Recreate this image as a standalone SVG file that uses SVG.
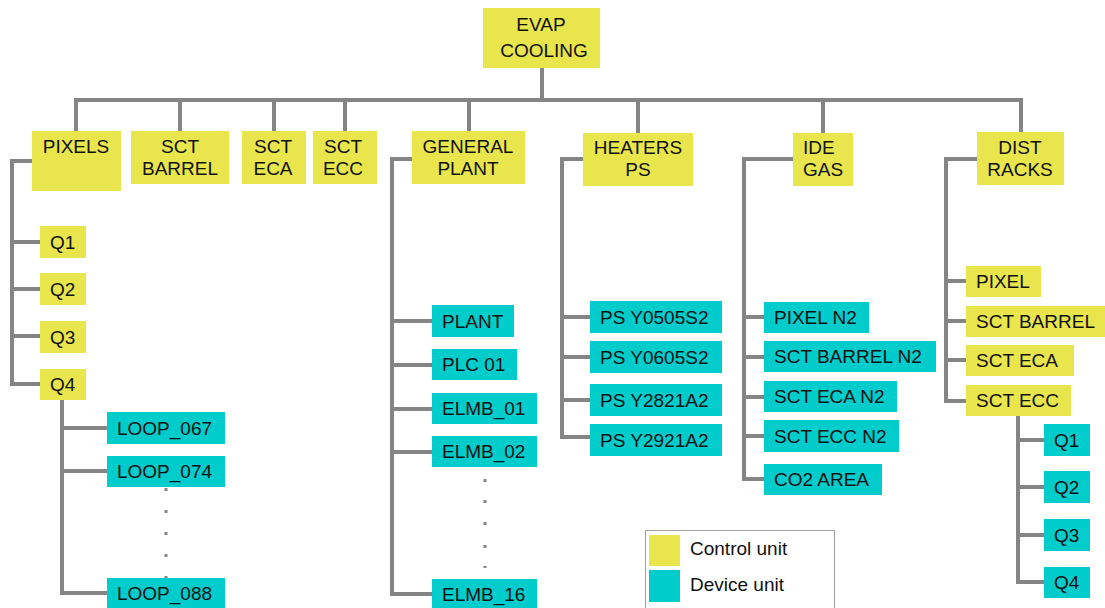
<svg xmlns="http://www.w3.org/2000/svg" width="1105" height="608" viewBox="0 0 1105 608">
<style>
.c{fill:#e8e64c}
.d{fill:#00cccc}
text{font-family:"Liberation Sans",Arial,sans-serif;font-size:19px;fill:#111}
.m{text-anchor:middle}
.ln{fill:none;stroke:#858585;stroke-width:4;stroke-linejoin:miter}
.dot{fill:#858585}
</style>
<rect width="1105" height="608" fill="#ffffff"/>
<g id="connectors" class="ln">
<path d="M542,68 V100"/>
<path d="M76,131 V100 H1021 V132"/>
<path d="M180,100 V131 M274,100 V131 M345,100 V131 M469,100 V131 M638,100 V133 M823,100 V133"/>
<path d="M32,161 H12 V384 H40 M12,242 H40 M12,289 H40 M12,336 H40"/>
<path d="M62,400 V593 H107 M62,428 H107 M62,471 H107"/>
<path d="M412,159 H392 V594 H432 M392,321 H432 M392,365 H432 M392,409 H432 M392,452 H432"/>
<path d="M583,159 H562 V437 H590 M562,317 H590 M562,357 H590 M562,400 H590"/>
<path d="M793,159 H744 V479 H764 M744,317 H764 M744,357 H764 M744,397 H764 M744,436 H764"/>
<path d="M977,159 H946 V401 H966 M946,281 H966 M946,321 H966 M946,360 H966"/>
<path d="M1018,416 V582 H1044 M1018,440 H1044 M1018,487 H1044 M1018,535 H1044"/>
</g>
<g id="dots1" class="dot">
<rect x="164.5" y="488" width="3" height="3"/><rect x="164.5" y="510" width="3" height="3"/><rect x="164.5" y="532" width="3" height="3"/><rect x="164.5" y="554" width="3" height="3"/><rect x="164.5" y="576" width="3" height="2"/>
</g>
<g id="dots2" class="dot">
<rect x="483.5" y="479" width="3" height="3"/><rect x="483.5" y="500" width="3" height="3"/><rect x="483.5" y="522" width="3" height="3"/><rect x="483.5" y="545" width="3" height="3"/><rect x="483.5" y="566" width="3" height="2"/>
</g>
<g id="evap"><rect class="c" x="483" y="8" width="117" height="60"/><text class="m" x="541" y="31">EVAP</text><text class="m" x="544" y="57">COOLING</text></g>
<g id="pixels"><rect class="c" x="32" y="131" width="89" height="60"/><text class="m" x="76" y="153">PIXELS</text></g>
<g id="sctbarrel"><rect class="c" x="131" y="131" width="98" height="53"/><text class="m" x="180" y="153">SCT</text><text class="m" x="180" y="175">BARREL</text></g>
<g id="scteca"><rect class="c" x="242" y="131" width="64" height="53"/><text class="m" x="273" y="153">SCT</text><text class="m" x="273" y="175">ECA</text></g>
<g id="sctecc"><rect class="c" x="313" y="131" width="64" height="53"/><text class="m" x="343" y="153">SCT</text><text class="m" x="343" y="175">ECC</text></g>
<g id="genplant"><rect class="c" x="412" y="131" width="113" height="53"/><text class="m" x="468" y="153">GENERAL</text><text class="m" x="468" y="175">PLANT</text></g>
<g id="heaters"><rect class="c" x="583" y="133" width="110" height="53"/><text class="m" x="638" y="154">HEATERS</text><text class="m" x="638" y="176">PS</text></g>
<g id="idegas"><rect class="c" x="793" y="133" width="60" height="53"/><text x="803" y="154">IDE</text><text x="803" y="176">GAS</text></g>
<g id="distracks"><rect class="c" x="977" y="132" width="87" height="53"/><text class="m" x="1020" y="154">DIST</text><text class="m" x="1020" y="176">RACKS</text></g>
<g id="pq1"><rect class="c" x="40" y="226" width="46" height="32"/><text x="50" y="249">Q1</text></g>
<g id="pq2"><rect class="c" x="40" y="273" width="46" height="32"/><text x="50" y="296">Q2</text></g>
<g id="pq3"><rect class="c" x="40" y="321" width="46" height="32"/><text x="50" y="344">Q3</text></g>
<g id="pq4"><rect class="c" x="40" y="369" width="46" height="31"/><text x="50" y="391">Q4</text></g>
<g id="loop067"><rect class="d" x="107" y="412" width="118" height="32"/><text x="117" y="435">LOOP_067</text></g>
<g id="loop074"><rect class="d" x="107" y="456" width="118" height="31"/><text x="117" y="478">LOOP_074</text></g>
<g id="loop088"><rect class="d" x="107" y="578" width="118" height="32"/><text x="117" y="600">LOOP_088</text></g>
<g id="plant"><rect class="d" x="432" y="305" width="82" height="32"/><text x="442" y="328">PLANT</text></g>
<g id="plc01"><rect class="d" x="432" y="349" width="85" height="31"/><text x="442" y="371">PLC 01</text></g>
<g id="elmb01"><rect class="d" x="432" y="393" width="105" height="31"/><text x="442" y="415">ELMB_01</text></g>
<g id="elmb02"><rect class="d" x="432" y="436" width="105" height="31"/><text x="442" y="458">ELMB_02</text></g>
<g id="elmb16"><rect class="d" x="432" y="579" width="105" height="31"/><text x="442" y="601">ELMB_16</text></g>
<g id="ps1"><rect class="d" x="590" y="301" width="132" height="32"/><text x="600" y="324">PS Y0505S2</text></g>
<g id="ps2"><rect class="d" x="590" y="341" width="132" height="32"/><text x="600" y="364">PS Y0605S2</text></g>
<g id="ps3"><rect class="d" x="590" y="384" width="132" height="32"/><text x="600" y="407">PS Y2821A2</text></g>
<g id="ps4"><rect class="d" x="590" y="424" width="132" height="32"/><text x="600" y="447">PS Y2921A2</text></g>
<g id="pixeln2"><rect class="d" x="764" y="302" width="105" height="31"/><text x="774" y="324">PIXEL N2</text></g>
<g id="sctbarreln2"><rect class="d" x="764" y="341" width="172" height="31"/><text x="774" y="363">SCT BARREL N2</text></g>
<g id="sctecan2"><rect class="d" x="764" y="381" width="133" height="31"/><text x="774" y="403">SCT ECA N2</text></g>
<g id="scteccn2"><rect class="d" x="764" y="420" width="135" height="32"/><text x="774" y="443">SCT ECC N2</text></g>
<g id="co2area"><rect class="d" x="764" y="464" width="118" height="31"/><text x="774" y="486">CO2 AREA</text></g>
<g id="dpixel"><rect class="c" x="966" y="266" width="75" height="31"/><text x="976" y="288">PIXEL</text></g>
<g id="dsctbarrel"><rect class="c" x="966" y="306" width="139" height="31"/><text x="976" y="328">SCT BARREL</text></g>
<g id="dscteca"><rect class="c" x="966" y="345" width="108" height="31"/><text x="976" y="367">SCT ECA</text></g>
<g id="dsctecc"><rect class="c" x="966" y="385" width="105" height="31"/><text x="976" y="407">SCT ECC</text></g>
<g id="dq1"><rect class="d" x="1044" y="424" width="46" height="32"/><text x="1054" y="447">Q1</text></g>
<g id="dq2"><rect class="d" x="1044" y="471" width="46" height="32"/><text x="1054" y="494">Q2</text></g>
<g id="dq3"><rect class="d" x="1044" y="519" width="46" height="32"/><text x="1054" y="542">Q3</text></g>
<g id="dq4"><rect class="d" x="1044" y="567" width="46" height="31"/><text x="1054" y="589">Q4</text></g>
<g id="legend">
<rect x="645.5" y="530.5" width="189" height="90" fill="#ffffff" stroke="#a0a0a0" stroke-width="1"/>
<rect class="c" x="649" y="535" width="31" height="31"/>
<rect class="d" x="649" y="570" width="31" height="32"/>
<text x="690" y="555">Control unit</text>
<text x="690" y="591">Device unit</text>
</g>
</svg>
